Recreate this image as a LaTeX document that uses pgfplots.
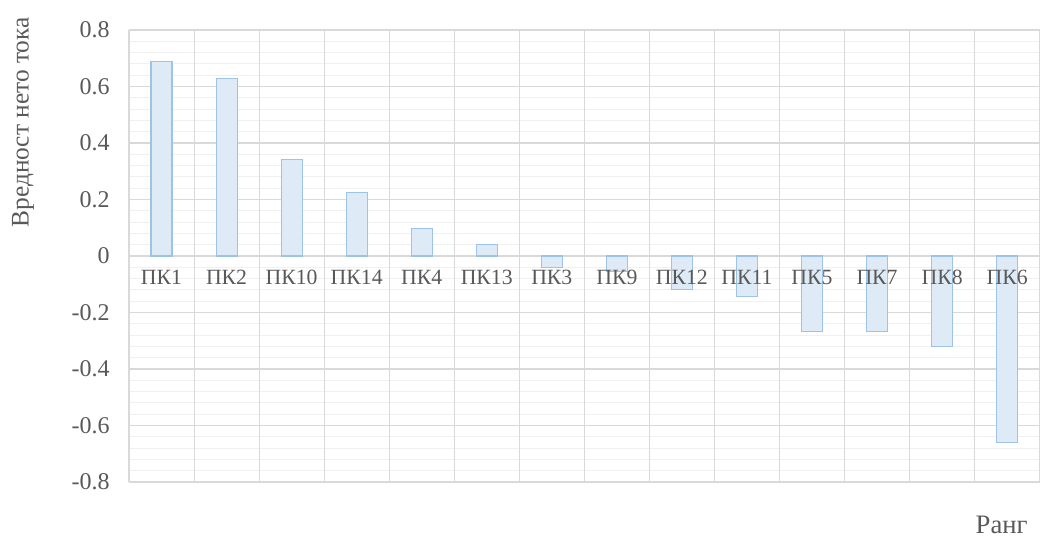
\documentclass[border=0pt]{standalone}
\usepackage{fontspec}
\setmainfont{Liberation Serif}
\usepackage{pgfplots}
\pgfplotsset{compat=1.18}

\definecolor{barfill}{RGB}{222,235,247}
\definecolor{barline}{RGB}{157,195,230}
\definecolor{majgrid}{RGB}{217,217,217}
\definecolor{mingrid}{RGB}{240,240,240}
\definecolor{txt}{RGB}{89,89,89}

\pgfplotsset{
  frame/.style={
    at={(0,0)}, anchor=south west,
    scale only axis, width=683pt, height=339pt,
    xmin=0.5, xmax=14.5, ymin=-0.8, ymax=0.8,
    axis x line*=middle, axis y line*=left,
    axis line style={draw=none, -},
    major tick length=0pt, minor tick length=0pt,
    clip=false,
  },
}

\begin{document}
\begin{tikzpicture}[text=txt]
\path[use as bounding box] (-96.75pt,-41.25pt) rectangle (683.25pt,361.5pt);
% grid, bars and y axis
\begin{axis}[
  frame,
  x axis line style={draw=majgrid, line width=1.5pt, -},
  xtick={1,...,14}, xticklabels={},
  ytick={-0.8,-0.6,...,0.8},
  yticklabels={-0.8,-0.6,-0.4,-0.2,0,0.2,0.4,0.6,0.8},
  yticklabel style={xshift=-11pt, text=txt, font=\fontsize{18}{20}\selectfont},
  minor y tick num=4,
  ymajorgrids, yminorgrids,
  major grid style={draw=majgrid, line width=0.8pt},
  minor grid style={draw=mingrid, line width=0.8pt},
  extra x ticks={0.5,1.5,...,14.5},
  extra x tick labels={},
  extra x tick style={grid=major, major grid style={draw=majgrid, line width=0.8pt}},
  xlabel={Ранг},
  xlabel style={at={(rel axis cs:1,0)}, anchor=center, xshift=-28.5pt, yshift=-32pt,
    text=txt, font=\fontsize{20}{22}\selectfont},
  ylabel={Вредност нето тока},
  ylabel style={at={(rel axis cs:0,0.796)}, anchor=center, yshift=79.5pt,
    text=txt, font=\fontsize{19}{21}\selectfont},
]
\addplot[ybar, bar width=15.75pt, bar shift=0pt, fill=barfill, draw=barline, line width=0.8pt]
  coordinates {
  (1,0.689) (2,0.629) (3,0.340) (4,0.224) (5,0.096) (6,0.042) (7,-0.040)
  (8,-0.055) (9,-0.120) (10,-0.143) (11,-0.268) (12,-0.268) (13,-0.320) (14,-0.661)
  };
\end{axis}
% category names, set above the bars
\begin{axis}[
  frame,
  x axis line style={draw=none},
  ytick=\empty,
  xtick={1,...,14},
  xticklabels={ПК1,ПК2,ПК10,ПК14,ПК4,ПК13,ПК3,ПК9,ПК12,ПК11,ПК5,ПК7,ПК8,ПК6},
  xticklabel style={yshift=-7pt, text=txt, font=\fontsize{16.3}{18}\selectfont},
]
\end{axis}
\end{tikzpicture}
\end{document}
